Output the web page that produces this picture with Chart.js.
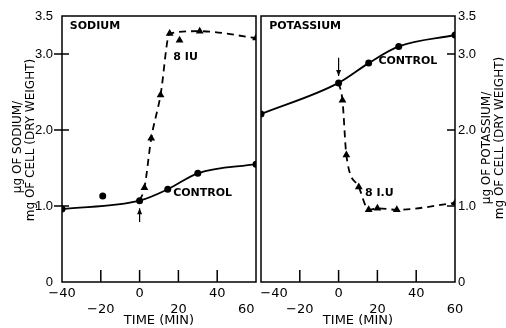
<!DOCTYPE html>
<html lang="en">
<head>
<meta charset="UTF-8">
<title>Sodium and potassium content of cells</title>
<script src="https://cdn.jsdelivr.net/npm/chart.js"></script>
<style>
  html, body { margin: 0; padding: 0; background: #fff; }
  #wrap { position: relative; width: 506px; height: 328px; overflow: hidden; }
  canvas { position: absolute; top: 0; }
  #naChart { left: 0; }
  #kChart { left: 250px; }
</style>
</head>
<body>
<div id="wrap">
  <canvas id="naChart" width="280" height="328"></canvas>
  <canvas id="kChart" width="256" height="328"></canvas>
</div>
<script>
// time in minutes, content in ug per mg of cell (dry weight)
const xTicks = [-40, -20, 0, 20, 40, 60];
const yTicks = [0, 1, 2, 3, 3.5];

const naControlTime = [-40, 0, 14.5, 30, 60];
const naControl = [0.96, 1.07, 1.22, 1.43, 1.55];
const naStrayTime = [-19];
const naStray = [1.13];
const naInsulinTime = [0, 2.5, 6, 10.8, 15.5, 31, 60];
const naInsulin = [1.07, 1.24, 1.89, 2.46, 3.27, 3.30, 3.21];
const naInsulinStrayTime = [20.6];
const naInsulinStray = [3.18];

const kControlTime = [-40, 0, 15.5, 31, 60];
const kControl = [2.21, 2.62, 2.88, 3.10, 3.25];
const kInsulinTime = [0, 2, 4, 10.4, 15.5, 20, 30, 60];
const kInsulin = [2.62, 2.39, 1.67, 1.25, 0.95, 0.97, 0.95, 1.04];

Chart.defaults.font.family = "'DejaVu Sans', sans-serif";
Chart.defaults.font.size = 12;
Chart.defaults.color = '#000';

function pts(xs, ys) {
  return xs.map((x, i) => ({ x: x, y: ys[i] }));
}

function controlSet(xs, ys) {
  return {
    data: pts(xs, ys), showLine: true, borderColor: '#000', backgroundColor: '#000',
    borderWidth: 1.8, pointRadius: 3.5, pointBorderWidth: 0, pointStyle: 'circle',
    cubicInterpolationMode: 'monotone'
  };
}

function insulinSet(xs, ys) {
  return {
    data: pts(xs, ys), showLine: true, borderColor: '#000', backgroundColor: '#000',
    borderWidth: 1.8, borderDash: [7, 5], pointStyle: 'triangle', pointBorderWidth: 0,
    pointRadius: c => c.dataIndex === 0 ? 0 : 4.5, cubicInterpolationMode: 'monotone'
  };
}

function dotSet(xs, ys, style) {
  return {
    data: pts(xs, ys), showLine: false, borderColor: '#000', backgroundColor: '#000',
    pointStyle: style, pointBorderWidth: 0, pointRadius: style === 'triangle' ? 4.5 : 3.5
  };
}

// frame, inward ticks, arrow, labels and the rotated y title
function panelDecor(opts) {
  return {
    id: 'panelDecor',
    afterDraw(chart) {
      const { ctx, chartArea: a } = chart;
      const x = chart.scales.x, y = chart.scales.y;
      ctx.save();
      ctx.strokeStyle = '#000';
      ctx.fillStyle = '#000';
      ctx.lineWidth = 1.5;
      ctx.strokeRect(a.left, a.top, a.right - a.left, a.bottom - a.top);

      ctx.beginPath();
      xTicks.slice(1, -1).forEach(v => {
        const px = x.getPixelForValue(v);
        ctx.moveTo(px, a.bottom);
        ctx.lineTo(px, a.bottom - 12);
      });
      yTicks.slice(1, -1).forEach(v => {
        const py = y.getPixelForValue(v);
        if (opts.side === 'left') { ctx.moveTo(a.left - 8, py); ctx.lineTo(a.left + 7, py); }
        else { ctx.moveTo(a.right - 8, py); ctx.lineTo(a.right, py); }
      });
      ctx.stroke();

      // arrow marking the time insulin was added
      const ax = x.getPixelForValue(opts.arrow.x);
      const y0 = y.getPixelForValue(opts.arrow.from);
      const y1 = y.getPixelForValue(opts.arrow.to);
      const dir = y1 < y0 ? -1 : 1;
      ctx.lineWidth = 1.2;
      ctx.beginPath();
      ctx.moveTo(ax, y0);
      ctx.lineTo(ax, y1);
      ctx.stroke();
      ctx.beginPath();
      ctx.moveTo(ax, y1);
      ctx.lineTo(ax - 2.5, y1 - dir * 6);
      ctx.lineTo(ax + 2.5, y1 - dir * 6);
      ctx.closePath();
      ctx.fill();

      ctx.textBaseline = 'middle';
      opts.notes.forEach(n => {
        ctx.font = 'bold 11px "DejaVu Sans", sans-serif';
        ctx.textAlign = n.align || 'center';
        ctx.fillText(n.text, x.getPixelForValue(n.x), y.getPixelForValue(n.y));
      });

      ctx.font = '12px "DejaVu Sans", sans-serif';
      ctx.textAlign = 'center';
      opts.yTitle.forEach(t => {
        ctx.save();
        ctx.translate(t.px, t.py);
        ctx.rotate(-Math.PI / 2);
        ctx.fillText(t.text, 0, 0);
        ctx.restore();
      });
      ctx.restore();
    }
  };
}

function xLabel(side, v) {
  let s = v < 0 ? '\u2212' + Math.abs(v) : String(v);
  // end labels are nudged inside their own panel
  if (side === 'right' && v === xTicks[0]) s = '\u2003\u2003' + s;
  if (side === 'left' && v === xTicks[xTicks.length - 1]) s = s + '\u2002\u2002\u2002';
  return (v / 20) % 2 === 0 ? s : ['', s];
}

function buildPanel(canvasId, side, datasets, decor) {
  const left = side === 'left';
  return new Chart(document.getElementById(canvasId), {
    type: 'scatter',
    data: { datasets: datasets },
    options: {
      responsive: false,
      animation: false,
      events: [],
      layout: {
        autoPadding: false,
        padding: left ? { top: 16, right: 24, left: 0, bottom: 0 } : { top: 16, right: 0, left: 11, bottom: 0 }
      },
      plugins: { legend: { display: false }, tooltip: { enabled: false } },
      scales: {
        x: {
          type: 'linear', min: -40, max: 60,
          afterBuildTicks: s => { s.ticks = xTicks.map(v => ({ value: v })); },
          afterFit: s => { s.height = 46; s.paddingLeft = 0; s.paddingRight = 0; },
          grid: { display: false, drawTicks: false },
          border: { display: false },
          ticks: {
            autoSkip: false, maxRotation: 0, padding: 4,
            font: { size: 13, lineHeight: 1.2 },
            callback: v => xLabel(side, v)
          },
          title: { display: true, text: 'TIME (MIN)', padding: { top: 0, bottom: 0 }, font: { size: 13 } }
        },
        y: {
          position: side, min: 0, max: 3.5,
          afterBuildTicks: s => { s.ticks = yTicks.map(v => ({ value: v })); },
          afterFit: s => { s.width = left ? 62 : 51; s.paddingTop = 0; s.paddingBottom = 0; },
          grid: { display: false, drawTicks: false },
          border: { display: false },
          ticks: {
            padding: left ? 9 : 3,
            font: { family: "'Liberation Sans', sans-serif", size: 13 },
            callback: v => v === 0 ? '0' : v.toFixed(1)
          }
        }
      }
    },
    plugins: [panelDecor(decor)]
  });
}

buildPanel('naChart', 'left', [
  controlSet(naControlTime, naControl),
  dotSet(naStrayTime, naStray, 'circle'),
  insulinSet(naInsulinTime, naInsulin),
  dotSet(naInsulinStrayTime, naInsulinStray, 'triangle')
], {
  side: 'left',
  arrow: { x: 0, from: 0.79, to: 0.97 },
  notes: [
    { text: 'SODIUM', x: -36, y: 3.36, align: 'left' },
    { text: '8 IU', x: 23.7, y: 2.96 },
    { text: 'CONTROL', x: 32.5, y: 1.17 }
  ],
  yTitle: [
    { text: 'μg OF SODIUM/', px: 18, py: 147 },
    { text: 'mg OF CELL (DRY WEIGHT)', px: 31, py: 140 }
  ]
});

buildPanel('kChart', 'right', [
  controlSet(kControlTime, kControl),
  insulinSet(kInsulinTime, kInsulin)
], {
  side: 'right',
  arrow: { x: 0, from: 2.95, to: 2.71 },
  notes: [
    { text: 'POTASSIUM', x: -35.8, y: 3.36, align: 'left' },
    { text: 'CONTROL', x: 35.7, y: 2.91 },
    { text: '8 I.U', x: 21, y: 1.17 }
  ],
  yTitle: [
    { text: 'μg OF POTASSIUM/', px: 237, py: 148 },
    { text: 'mg OF CELL (DRY WEIGHT)', px: 250, py: 138 }
  ]
});
</script>
</body>
</html>
